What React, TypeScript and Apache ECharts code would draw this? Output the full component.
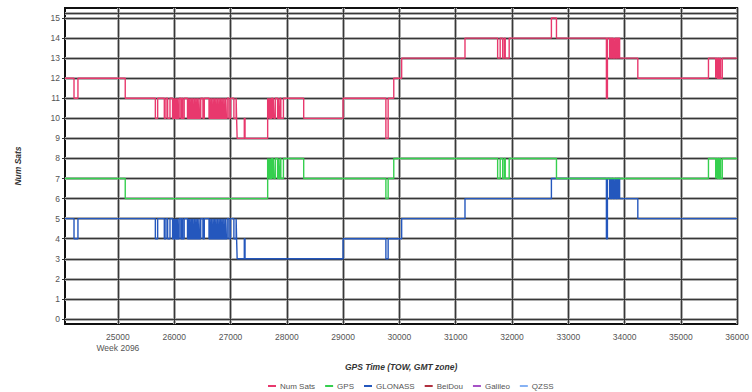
import React, { useEffect, useRef } from 'react';
import * as echarts from 'echarts';

const X_MIN = 24060;
const X_MAX = 36000;
const Y_MIN = -0.25;
const Y_MAX = 15.5;
const TOP_LINE = 15.25;

const xTicks = [25000, 26000, 27000, 28000, 29000, 30000, 31000, 32000, 33000, 34000, 35000, 36000];
const yTicks = [0, 1, 2, 3, 4, 5, 6, 7, 8, 9, 10, 11, 12, 13, 14, 15];
const weekTick = 25000;
const weekLabel = 'Week 2096';

const seriesNames = ['Num Sats', 'GPS', 'GLONASS', 'BeiDou', 'Galileo', 'QZSS'];
const seriesColors = ['#e8386d', '#35cf4e', '#2457bd', '#b0303f', '#a652c6', '#86b2f4'];

// toggle times (values alternate between two levels)
const glonassDenseToggles = [
  25665, 25706,
  25824, 25853, 25883, 25925,
  25971, 25985, 25995, 26010, 26020, 26035, 26045, 26060, 26070, 26088,
  26118, 26135, 26150, 26177,
  26236, 26252, 26262, 26278, 26288, 26305, 26315, 26330, 26340, 26358, 26368, 26385, 26395, 26412, 26422, 26440, 26450, 26471,
  26510, 26535,
  26618, 26633, 26643, 26660, 26670, 26688, 26698, 26715, 26725, 26742, 26752, 26770, 26780, 26798, 26808, 26825, 26835, 26852, 26862, 26880, 26890, 26908, 26918, 26941,
  26971, 27000,
  27060, 27100, 27108,
];
const gpsToggles1 = [27672, 27684, 27694, 27708, 27718, 27732, 27748, 27760, 27772, 27795, 27836, 27850, 27862, 27880, 27894, 27940];
const gpsToggles2 = [31745, 31790, 31835, 31865, 31880, 31950];
const glonassToggles2 = [33695, 33735, 33750, 33765, 33780, 33795, 33808, 33820, 33835, 33848, 33862, 33875, 33890, 33912];
const gpsToggles3 = [35618, 35630, 35645, 35660, 35675, 35690, 35705, 35735];

const alt = (times: number[], a: number, b: number) => times.map((t, i) => [t, i % 2 === 0 ? a : b]);

const numSatsData = [
  [24060, 12], [24220, 11], [24290, 12], [25130, 11],
  ...alt(glonassDenseToggles, 10, 11),
  [27118, 9], [27245, 10], [27258, 9],
  [27660, 11],
  ...alt(gpsToggles1, 10, 11),
  [28300, 10], [29000, 11], [29760, 9], [29800, 11], [29900, 12], [30040, 13], [31165, 14],
  ...alt(gpsToggles2, 13, 14),
  [32700, 15], [32790, 14], [33677, 11],
  ...alt(glonassToggles2, 14, 13),
  [34235, 12], [35490, 13],
  ...alt(gpsToggles3, 12, 13),
  [36000, 13],
];

const gpsData = [
  [24060, 7], [25130, 6], [27660, 8],
  ...alt(gpsToggles1, 7, 8),
  [28300, 7], [29760, 6], [29800, 7], [29900, 8],
  ...alt(gpsToggles2, 7, 8),
  [32790, 7], [35490, 8],
  ...alt(gpsToggles3, 7, 8),
  [36000, 8],
];

const glonassData = [
  [24060, 5], [24220, 4], [24290, 5],
  ...alt(glonassDenseToggles, 4, 5),
  [27118, 3], [27245, 4], [27258, 3], [29000, 4], [29760, 3], [29800, 4], [30040, 5], [31165, 6], [32700, 7], [33677, 4],
  ...alt(glonassToggles2, 7, 6),
  [34235, 5], [36000, 5],
];

const beidouData: number[][] = [];
const galileoData: number[][] = [];
const qzssData: number[][] = [];

const FONT = "'Liberation Sans', Arial, sans-serif";

export default function App() {
  const ref = useRef<HTMLDivElement>(null);
  useEffect(() => {
    if (!ref.current) return;
    const chart = echarts.init(ref.current, null, { renderer: 'svg' });
    const gridLines = [
      ...xTicks.map((v) => ({ xAxis: v })),
      ...yTicks.map((v) => ({ yAxis: v })),
      { yAxis: TOP_LINE },
    ];
    const dataSeries = [numSatsData, gpsData, glonassData, beidouData, galileoData, qzssData].map((d, i) => ({
      name: seriesNames[i],
      type: 'line',
      step: 'end',
      data: d,
      showSymbol: false,
      symbol: 'none',
      color: seriesColors[i],
      lineStyle: { width: 1.4, color: seriesColors[i] },
      z: i === 1 ? 4 : 3,
      silent: true,
    }));
    chart.setOption({
      animation: false,
      textStyle: { fontFamily: FONT },
      grid: {
        left: 65, right: 10, top: 8, bottom: 68,
        show: true, borderColor: '#111', borderWidth: 2, backgroundColor: 'transparent',
      },
      legend: {
        data: seriesNames,
        left: 263, top: 377,
        icon: 'rect', itemWidth: 8, itemHeight: 2, itemGap: 10,
        textStyle: { fontSize: 8, color: '#555', fontFamily: FONT, padding: [0, 0, 0, -1] },
      },
      xAxis: {
        type: 'value', min: X_MIN, max: X_MAX,
        name: 'GPS Time (TOW, GMT zone)', nameLocation: 'middle', nameGap: 38,
        nameTextStyle: { fontSize: 8.5, fontWeight: 'bold', fontStyle: 'italic', color: '#333' },
        axisLine: { show: false },
        axisTick: { show: true, customValues: xTicks, length: 3, lineStyle: { color: '#333' } },
        axisLabel: {
          customValues: xTicks, fontSize: 8.5, color: '#555', margin: 7, lineHeight: 11,
          formatter: (v: number) => (v === weekTick ? `${v}\n${weekLabel}` : `${v}`),
        },
        splitLine: { show: false },
      },
      yAxis: {
        type: 'value', min: Y_MIN, max: Y_MAX,
        name: 'Num Sats', nameLocation: 'middle', nameGap: 43, nameRotate: 90,
        nameTextStyle: { fontSize: 8.5, fontWeight: 'bold', fontStyle: 'italic', color: '#333' },
        axisLine: { show: false },
        axisTick: { show: true, customValues: yTicks, length: 3, lineStyle: { color: '#333' } },
        axisLabel: { customValues: yTicks, fontSize: 8.5, color: '#555', margin: 5 },
        splitLine: { show: false },
      },
      series: [
        ...dataSeries,
        {
          name: 'gridHalo', type: 'line', data: [[X_MIN, Y_MIN]], symbol: 'none', silent: true,
          lineStyle: { opacity: 0 }, z: 1,
          markLine: {
            silent: true, symbol: 'none', label: { show: false }, z: 1,
            lineStyle: { type: 'solid', color: '#adadad', width: 3 },
            data: gridLines,
          },
        },
        {
          name: 'gridCore', type: 'line', data: [[X_MIN, Y_MIN]], symbol: 'none', silent: true,
          lineStyle: { opacity: 0 }, z: 2,
          markLine: {
            silent: true, symbol: 'none', label: { show: false }, z: 2,
            lineStyle: { type: 'solid', color: '#383838', width: 1 },
            data: gridLines,
          },
        },
      ],
    });
    return () => chart.dispose();
  }, []);
  return <div ref={ref} style={{ position: 'absolute', left: 0, top: 0, width: 752, height: 392 }} />;
}
